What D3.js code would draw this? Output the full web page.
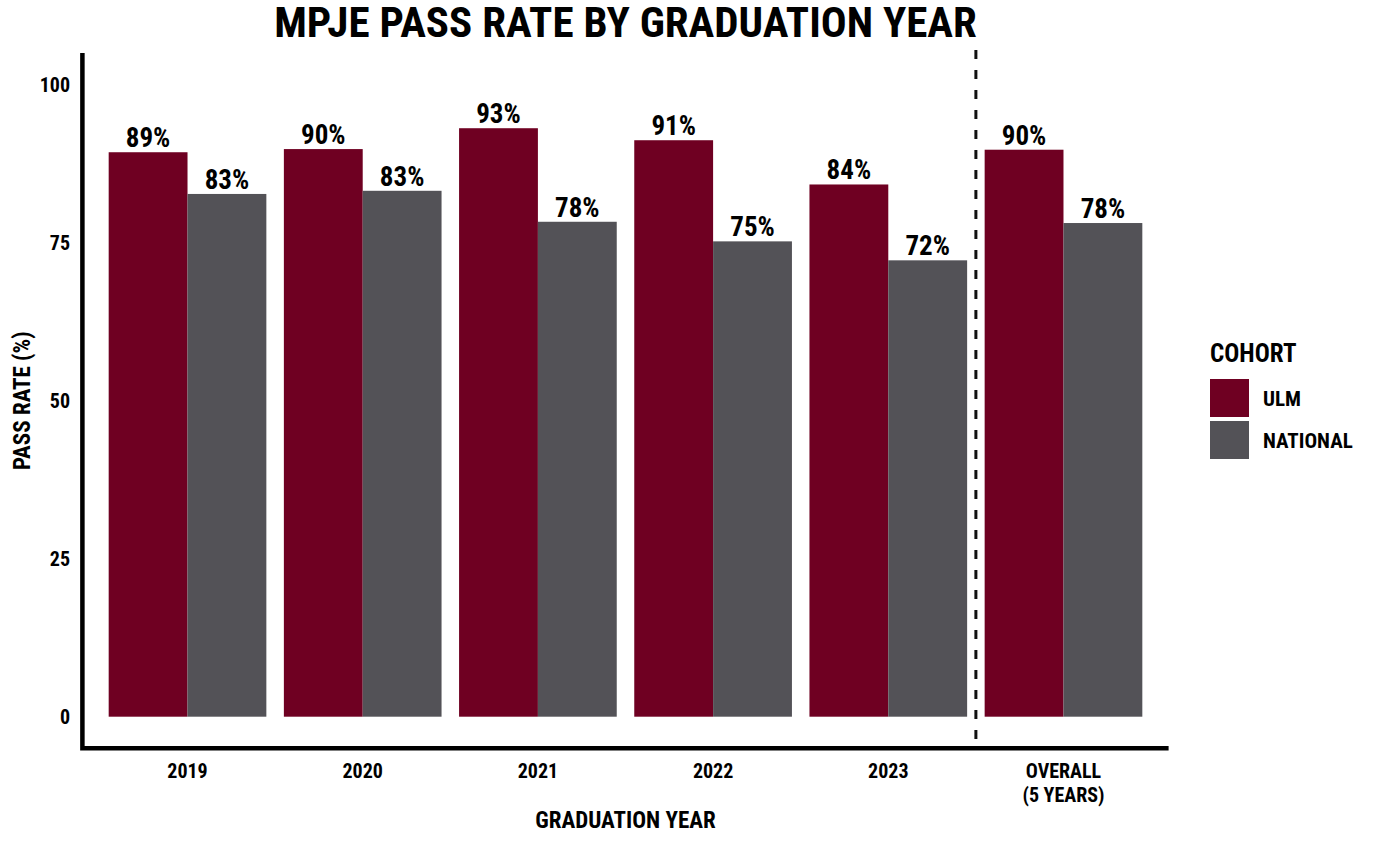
<!DOCTYPE html>
<html><head><meta charset="utf-8">
<script src="https://cdn.jsdelivr.net/npm/d3@7/dist/d3.min.js"></script>
<style>
body{margin:0;background:#fff;}
text{font-family:"Liberation Sans Narrow","Roboto Condensed","DejaVu Sans Condensed",sans-serif;font-weight:bold;fill:#000;}
</style></head>
<body><svg id="chart" width="1382" height="846"></svg>
<script>
const categories = ["2019","2020","2021","2022","2023","OVERALL\n(5 YEARS)"];
const cohorts = ["ULM","NATIONAL"];
const ulmValues = [89.3, 89.8, 93.1, 91.2, 84.2, 89.7];
const nationalValues = [82.7, 83.2, 78.3, 75.2, 72.2, 78.1];
const yTicks = [0,25,50,75,100];
const colors = ["#6f0022","#535257"];

const svg = d3.select("#chart");
const panel = {left:82.4, right:1168.6, top:53, bottom:748.3};

const nCat = categories.length;
const step = (panel.right - panel.left)/(nCat - 1 + 1.2);
const center = i => panel.left + step*(0.6 + i);
const x = d3.scaleBand().domain(categories)
  .range([center(0)-step/2, center(nCat-1)+step/2]).paddingInner(0.1).paddingOuter(0.05);
const xInner = d3.scaleBand().domain(cohorts).range([0, x.bandwidth()]);
const y = d3.scaleLinear().domain([-5,105]).range([panel.bottom, panel.top]);

const data = categories.map((c,i)=>({cat:c, vals:[ulmValues[i], nationalValues[i]]}));

// bars
const g = svg.append("g");
const groups = g.selectAll("g.grp").data(data).join("g")
  .attr("transform", d=>`translate(${x(d.cat)},0)`);
groups.selectAll("rect").data(d=>d.vals.map((v,j)=>({v, k:cohorts[j], j})))
  .join("rect")
  .attr("x", d=>xInner(d.k)).attr("width", xInner.bandwidth())
  .attr("y", d=>y(d.v)).attr("height", d=>y(0)-y(d.v))
  .attr("fill", d=>colors[d.j]);
groups.selectAll("text.val").data(d=>d.vals.map((v,j)=>({v, k:cohorts[j]})))
  .join("text").attr("class","val")
  .attr("x", d=>xInner(d.k)+xInner.bandwidth()/2)
  .attr("y", d=>y(d.v)-5)
  .attr("text-anchor","middle").style("font-size","27px")
  .text(d=>Math.round(d.v)+"%");

// dashed separator
const sepX = (center(nCat-2)+center(nCat-1))/2;
svg.append("line").attr("x1",sepX).attr("x2",sepX)
  .attr("y1",panel.top-3).attr("y2",panel.bottom)
  .attr("stroke","#111").attr("stroke-width",3).attr("stroke-dasharray","9,11");

// axis lines
svg.append("path").attr("d",`M${panel.left},${panel.top}V${panel.bottom}H${panel.right}`)
  .attr("fill","none").attr("stroke","#000").attr("stroke-width",4.5);

// y ticks
svg.append("g").selectAll("text").data(yTicks).join("text")
  .attr("x",70).attr("y",d=>y(d)).attr("dy","0.36em")
  .attr("text-anchor","end").style("font-size","20px").text(d=>d);

// x ticks
const xl = svg.append("g").selectAll("text").data(categories).join("text")
  .attr("text-anchor","middle").style("font-size","20px")
  .attr("transform",d=>`translate(${x(d)+x.bandwidth()/2},778)`);
xl.each(function(d){
  const lines = d.split("\n");
  d3.select(this).selectAll("tspan").data(lines).join("tspan")
    .attr("x",0).attr("dy",(l,i)=>i===0?0:"1.2em").text(l=>l);
});

// titles
svg.append("text").attr("x",(panel.left+panel.right)/2).attr("y",37)
  .attr("text-anchor","middle").style("font-size","43px").text("MPJE PASS RATE BY GRADUATION YEAR");
svg.append("text").attr("x",(panel.left+panel.right)/2).attr("y",828)
  .attr("text-anchor","middle").style("font-size","23px").text("GRADUATION YEAR");
svg.append("text").attr("transform",`translate(30,${(panel.top+panel.bottom)/2}) rotate(-90)`)
  .attr("text-anchor","middle").style("font-size","23px").text("PASS RATE (%)");

// legend
const lg = svg.append("g").attr("transform","translate(1210,0)");
lg.append("text").attr("x",0).attr("y",362).style("font-size","25px").text("COHORT");
cohorts.forEach((c,i)=>{
  lg.append("rect").attr("x",0).attr("y",379+i*42).attr("width",39).attr("height",38).attr("fill",colors[i]);
  lg.append("text").attr("x",53).attr("y",379+i*42+19).attr("dy","0.36em").style("font-size","21px").text(c);
});
</script></body></html>
